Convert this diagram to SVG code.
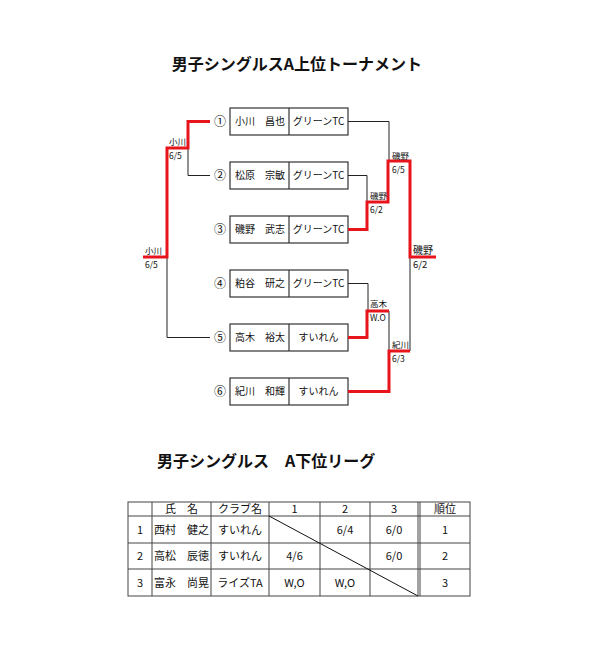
<svg xmlns="http://www.w3.org/2000/svg" width="595" height="652" viewBox="0 0 595 652">
<style>
text{font-family:"Noto Sans CJK JP","Liberation Sans",sans-serif;fill:#111}
.title{font-size:16px;font-weight:bold}
.box rect{fill:#fff;stroke:#333;stroke-width:1.2}
.box line{stroke:#333;stroke-width:1.2}
.nm{font-size:10px}
.num{font-size:12px;text-anchor:middle}
.lb{font-size:8.5px}
.blk{fill:none;stroke:#222;stroke-width:1}
.red{fill:none;stroke:#e8141c;stroke-width:3;stroke-linejoin:miter}
.tb{stroke:#444;stroke-width:1;fill:none}
.tt{font-size:11px;text-anchor:middle}
</style>
<rect width="595" height="652" fill="#fff"/>
<text class="title" x="297" y="70" text-anchor="middle">男子シングルスA上位トーナメント</text>

<g id="p1" class="box"><text class="num" x="220" y="126">①</text><rect x="230" y="108" width="118" height="27"/><line x1="289" y1="108" x2="289" y2="135"/><text class="nm" x="235" y="125">小川　昌也</text><text class="nm" x="318.5" y="125" text-anchor="middle">グリーンTC</text></g>
<g id="p2" class="box"><text class="num" x="220" y="180">②</text><rect x="230" y="162" width="118" height="27"/><line x1="289" y1="162" x2="289" y2="189"/><text class="nm" x="235" y="179">松原　宗敏</text><text class="nm" x="318.5" y="179" text-anchor="middle">グリーンTC</text></g>
<g id="p3" class="box"><text class="num" x="220" y="234">③</text><rect x="230" y="216" width="118" height="27"/><line x1="289" y1="216" x2="289" y2="243"/><text class="nm" x="235" y="233">磯野　武志</text><text class="nm" x="318.5" y="233" text-anchor="middle">グリーンTC</text></g>
<g id="p4" class="box"><text class="num" x="220" y="288">④</text><rect x="230" y="270" width="118" height="27"/><line x1="289" y1="270" x2="289" y2="297"/><text class="nm" x="235" y="287">粕谷　研之</text><text class="nm" x="318.5" y="287" text-anchor="middle">グリーンTC</text></g>
<g id="p5" class="box"><text class="num" x="220" y="342">⑤</text><rect x="230" y="324" width="118" height="27"/><line x1="289" y1="324" x2="289" y2="351"/><text class="nm" x="235" y="341">高木　裕太</text><text class="nm" x="318.5" y="341" text-anchor="middle">すいれん</text></g>
<g id="p6" class="box"><text class="num" x="220" y="396">⑥</text><rect x="230" y="378" width="118" height="27"/><line x1="289" y1="378" x2="289" y2="405"/><text class="nm" x="235" y="395">紀川　和輝</text><text class="nm" x="318.5" y="395" text-anchor="middle">すいれん</text></g>

<g id="connectors">
<path class="blk" d="M348 121.5H389V161"/>
<path class="blk" d="M348 175.5H367V202"/>
<path class="blk" d="M348 283.5H368V311"/>
<path class="blk" d="M210 175.5H188V148"/>
<path class="blk" d="M210 337.5H167V257"/>
<path class="blk" d="M389 311V351"/>
<path class="blk" d="M410 257V351"/>
<path class="red" d="M210 121.5H188V148H167V257H143"/>
<path class="red" d="M348 229.5H367V202H388V161H410V257H436"/>
<path class="red" d="M348 337.5H367V311H389"/>
<path class="red" d="M348 391.5H389V351H410"/>
</g>

<g id="labels">
<text class="lb" x="169" y="145">小川</text><text class="lb" x="169" y="159">6/5</text>
<text class="lb" x="145" y="254">小川</text><text class="lb" x="145" y="268">6/5</text>
<text class="lb" x="392" y="159">磯野</text><text class="lb" x="392" y="173">6/5</text>
<text class="lb" x="370" y="199">磯野</text><text class="lb" x="370" y="213">6/2</text>
<text class="lb" x="413" y="254" style="font-size:10px">磯野</text><text class="lb" x="413" y="268" style="font-size:9.5px">6/2</text>
<text class="lb" x="370" y="307">高木</text><text class="lb" x="370" y="321">W.O</text>
<text class="lb" x="392" y="348">紀川</text><text class="lb" x="392" y="362">6/3</text>
</g>

<text class="title" x="157" y="467">男子シングルス　A下位リーグ</text>

<g id="table">
<rect class="tb" x="128" y="502" width="342" height="94"/>
<path class="tb" d="M128 516H470M128 543H470M128 569H470M152 502V596M211 502V596M269 502V596M320 502V596M370 502V596M418 502V596M420 502V596"/>
<path class="tb" d="M269 516L418 596" style="stroke:#111"/>
<text class="tt" x="181.5" y="513">氏　名</text>
<text class="tt" x="240" y="513">クラブ名</text>
<text class="tt" x="294.5" y="513">1</text>
<text class="tt" x="345" y="513">2</text>
<text class="tt" x="394" y="513">3</text>
<text class="tt" x="445" y="513">順位</text>
<text class="tt" x="140" y="534">1</text>
<text class="tt" x="181.5" y="534">西村　健之</text>
<text class="tt" x="240" y="534">すいれん</text>
<text class="tt" x="345" y="534">6/4</text>
<text class="tt" x="394" y="534">6/0</text>
<text class="tt" x="445" y="534">1</text>
<text class="tt" x="140" y="560">2</text>
<text class="tt" x="181.5" y="560">高松　辰徳</text>
<text class="tt" x="240" y="560">すいれん</text>
<text class="tt" x="294.5" y="560">4/6</text>
<text class="tt" x="394" y="560">6/0</text>
<text class="tt" x="445" y="560">2</text>
<text class="tt" x="140" y="587">3</text>
<text class="tt" x="181.5" y="587">富永　尚晃</text>
<text class="tt" x="240" y="587">ライズTA</text>
<text class="tt" x="294.5" y="587">W,O</text>
<text class="tt" x="345" y="587">W,O</text>
<text class="tt" x="445" y="587">3</text>
</g>
</svg>
